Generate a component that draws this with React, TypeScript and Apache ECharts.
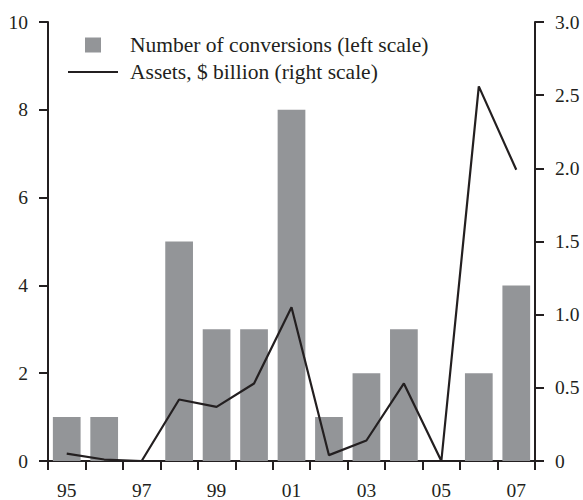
import React, { useEffect, useRef } from "react";
import * as echarts from "echarts";

const categories = ["95", "96", "97", "98", "99", "00", "01", "02", "03", "04", "05", "06", "07"];
const conversions = [1, 1, 0, 5, 3, 3, 8, 1, 2, 3, 0, 2, 4];
const assets = [0.05, 0.01, 0, 0.42, 0.37, 0.53, 1.05, 0.04, 0.14, 0.53, 0, 2.56, 1.99];

const barName = "Number of conversions (left scale)";
const lineName = "Assets, $ billion (right scale)";

const FONT = "'Liberation Serif', 'Times New Roman', serif";

export default function App() {
  const ref = useRef<HTMLDivElement>(null);
  useEffect(() => {
    if (!ref.current) return;
    const chart = echarts.init(ref.current, null, { renderer: "svg" });
    const axisText = { color: "#231f20", fontFamily: FONT, fontSize: 19.5 };
    const tick = { show: true, length: 9, lineStyle: { color: "#231f20", width: 2 } };
    chart.setOption({
      animation: false,
      backgroundColor: "#ffffff",
      textStyle: { fontFamily: FONT },
      grid: { left: 48, right: 48, top: 22, bottom: 37 },
      legend: [
        {
          data: [{ name: barName, icon: "rect" }],
          left: 85,
          top: 34,
          padding: 0,
          itemWidth: 16,
          itemHeight: 15,
          textStyle: { fontFamily: FONT, fontSize: 21.5, color: "#231f20", padding: [0, 0, 0, 24] },
          selectedMode: false,
        },
        {
          data: [{ name: lineName, icon: "rect" }],
          left: 68,
          top: 61,
          padding: 0,
          itemWidth: 50,
          itemHeight: 2,
          textStyle: { fontFamily: FONT, fontSize: 21.5, color: "#231f20", padding: [0, 0, 0, 7] },
          selectedMode: false,
        },
      ],
      xAxis: {
        type: "category",
        data: categories,
        boundaryGap: true,
        axisLine: { lineStyle: { color: "#231f20", width: 2 } },
        axisTick: { ...tick, interval: 0, alignWithLabel: false },
        axisLabel: { ...axisText, interval: 1, margin: 19 },
        splitLine: { show: false },
      },
      yAxis: [
        {
          type: "value",
          min: 0,
          max: 10,
          interval: 2,
          axisLine: { show: true, lineStyle: { color: "#231f20", width: 2 } },
          axisTick: tick,
          axisLabel: { ...axisText, margin: 20 },
          splitLine: { show: false },
        },
        {
          type: "value",
          min: 0,
          max: 3,
          interval: 0.5,
          position: "right",
          axisLine: { show: true, lineStyle: { color: "#231f20", width: 2 } },
          axisTick: tick,
          axisLabel: {
            ...axisText,
            margin: 20,
            formatter: (v: number) => (v === 0 ? "0" : v.toFixed(1)),
          },
          splitLine: { show: false },
        },
      ],
      series: [
        {
          name: barName,
          type: "bar",
          data: conversions,
          yAxisIndex: 0,
          barWidth: "74%",
          itemStyle: { color: "#939598" },
        },
        {
          name: lineName,
          type: "line",
          data: assets,
          yAxisIndex: 1,
          symbol: "none",
          lineStyle: { color: "#231f20", width: 2.2 },
          itemStyle: { color: "#231f20" },
        },
      ],
    });
    return () => chart.dispose();
  }, []);
  return <div ref={ref} style={{ position: "fixed", left: 0, top: 0, width: 583, height: 500 }} />;
}
